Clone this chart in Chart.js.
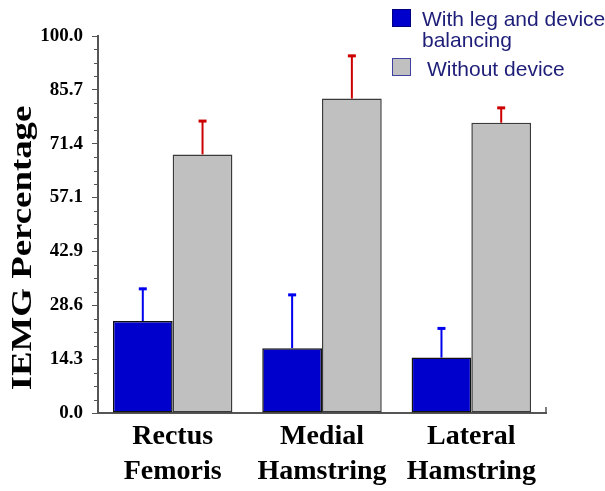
<!DOCTYPE html>
<html>
<head>
<meta charset="utf-8">
<script src="https://cdn.jsdelivr.net/npm/chart.js@4.4.1/dist/chart.umd.min.js"></script>
<style>
  html, body { margin: 0; padding: 0; background: #fff; }
  #wrap { width: 605px; height: 491px; }
</style>
</head>
<body>
<div id="wrap"><canvas id="iemgChart"></canvas></div>
<script>
// IEMG percentage by muscle, with / without the balancing device

const categories = [['Rectus', 'Femoris'], ['Medial', 'Hamstring'], ['Lateral', 'Hamstring']];
const seriesLabels = [['With leg and device', 'balancing'], ['Without device']];
const withDevice      = [24.4, 17.2, 14.7];
const withDeviceErr   = [8.8, 14.4, 8.0];
const withoutDevice   = [68.6, 83.4, 77.0];
const withoutDeviceErr = [9.1, 11.6, 4.2];
const yTickLabels = ['0.0', '14.3', '28.6', '42.9', '57.1', '71.4', '85.7', '100.0'];
const yTitle = 'IEMG Percentage';

const COLORS = {
  blue:    '#0000CC',
  gray:    '#C0C0C0',
  errBlue: '#0000EE',
  errRed:  '#CC0000',
  axis:    '#555555',
  legend:  '#1E1E78',
};

const errors = [withDeviceErr, withoutDeviceErr];
const errColors = [COLORS.errBlue, COLORS.errRed];

// ── error bars (upper half only, with cap) ─────────────────────────
const errorBarPlugin = {
  id: 'errorBars',
  afterDatasetsDraw(chart) {
    const c = chart.ctx;
    const yScale = chart.scales.y;
    c.save();
    chart.data.datasets.forEach((ds, di) => {
      const meta = chart.getDatasetMeta(di);
      meta.data.forEach((bar, i) => {
        const top = yScale.getPixelForValue(ds.data[i] + errors[di][i]);
        c.strokeStyle = errColors[di];
        c.lineWidth = 2;
        c.beginPath();
        c.moveTo(bar.x, bar.y);
        c.lineTo(bar.x, top);
        c.stroke();
        c.lineWidth = 3;
        c.beginPath();
        c.moveTo(bar.x - 4, top + 1);
        c.lineTo(bar.x + 4, top + 1);
        c.stroke();
      });
    });
    c.restore();
  }
};

// ── minor ticks, y title, legend ───────────────────────────────────
const decorPlugin = {
  id: 'decor',
  afterDraw(chart) {
    const c = chart.ctx;
    const { left, top, bottom, right } = chart.chartArea;
    const yScale = chart.scales.y;
    c.save();

    // minor ticks: 3 between each major
    const major = 100 / (yTickLabels.length - 1);
    c.strokeStyle = COLORS.axis;
    c.lineWidth = 1;
    for (let k = 0; k < yTickLabels.length - 1; k++) {
      for (let m = 1; m < 4; m++) {
        const py = Math.round(yScale.getPixelForValue(k * major + m * major / 4)) + 0.5;
        c.beginPath();
        c.moveTo(left - 4, py);
        c.lineTo(left, py);
        c.stroke();
      }
    }
    // small end tick on x axis
    c.lineWidth = 1.5;
    c.beginPath();
    c.moveTo(right, bottom);
    c.lineTo(right, bottom - 6);
    c.stroke();

    // y axis title (stretched serif like the original)
    c.fillStyle = '#000';
    c.font = 'bold 29px "Liberation Serif", "Times New Roman", serif';
    c.textAlign = 'center';
    c.textBaseline = 'middle';
    c.translate(24, 248);
    c.rotate(-Math.PI / 2);
    c.scale(1.27, 1);
    c.fillText(yTitle, 0, 0);
    c.setTransform(1, 0, 0, 1, 0, 0);

    // legend
    c.font = '21px "Liberation Sans", Arial, sans-serif';
    c.textAlign = 'left';
    c.textBaseline = 'alphabetic';
    const rows = [
      { box: [392, 9], text: [422, 26], fill: COLORS.blue, stroke: '#000080' },
      { box: [392, 58], text: [427, 76], fill: COLORS.gray, stroke: '#4040A0' },
    ];
    rows.forEach((r, i) => {
      c.fillStyle = r.fill;
      c.fillRect(r.box[0], r.box[1], 19, 18);
      c.strokeStyle = r.stroke;
      c.lineWidth = 1;
      c.strokeRect(r.box[0] + 0.5, r.box[1] + 0.5, 18, 17);
      c.fillStyle = COLORS.legend;
      seriesLabels[i].forEach((line, li) => {
        c.fillText(line, r.text[0], r.text[1] + li * 21);
      });
    });
    c.restore();
  }
};

new Chart(document.getElementById('iemgChart'), {
  type: 'bar',
  data: {
    labels: categories,
    datasets: [
      {
        label: seriesLabels[0].join(' '),
        data: withDevice,
        backgroundColor: COLORS.blue,
        borderColor: '#111111',
        borderWidth: 1.5,
        borderSkipped: false,
        categoryPercentage: 0.8,
        barPercentage: 1.0,
      },
      {
        label: seriesLabels[1].join(' '),
        data: withoutDevice,
        backgroundColor: COLORS.gray,
        borderColor: '#3A3A3A',
        borderWidth: 1.5,
        borderSkipped: false,
        categoryPercentage: 0.8,
        barPercentage: 1.0,
      },
    ]
  },
  plugins: [errorBarPlugin, decorPlugin],
  options: {
    responsive: true,
    maintainAspectRatio: false,
    animation: false,
    layout: { padding: { left: 0, right: 59, top: 36, bottom: 0 } },
    plugins: {
      legend: { display: false },
      tooltip: { enabled: false },
    },
    scales: {
      x: {
        grid: { display: false, drawTicks: false },
        border: { display: true, color: COLORS.axis, width: 2 },
        ticks: {
          color: '#000',
          padding: 6,
          maxRotation: 0,
          autoSkip: false,
          font: { family: '"Liberation Serif", "Times New Roman", serif', size: 28, weight: 'bold', lineHeight: 1.25 },
        },
        afterFit(scale) { scale.height = 78; },
      },
      y: {
        min: 0,
        max: 100,
        grid: { drawOnChartArea: false, drawTicks: true, tickLength: 6, color: COLORS.axis },
        border: { display: true, color: COLORS.axis, width: 2 },
        afterBuildTicks(scale) {
          scale.ticks = yTickLabels.map((l, i) => ({ value: i * 100 / (yTickLabels.length - 1) }));
        },
        ticks: {
          color: '#000',
          padding: 9,
          callback: (v, i) => yTickLabels[i],
          font: { family: '"Liberation Serif", "Times New Roman", serif', size: 19, weight: 'bold' },
        },
        afterFit(scale) { scale.width = 98; },
      }
    }
  }
});
</script>
</body>
</html>
